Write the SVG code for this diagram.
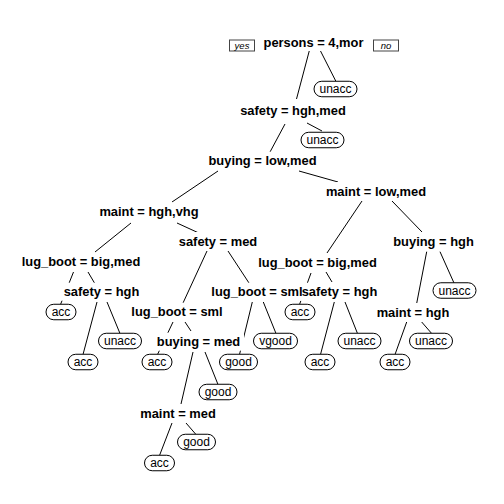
<svg xmlns="http://www.w3.org/2000/svg" width="504" height="504" viewBox="0 0 504 504">
<style>
.ln{stroke:#000;stroke-width:1;fill:none}
.bg{fill:#fff;stroke:none}
.sp{font-family:"Liberation Sans",Arial,sans-serif;font-weight:bold;font-size:12.9px;text-anchor:middle;fill:#000}
.lf rect{fill:#fff;stroke:#000;stroke-width:1}
.lf text{font-family:"Liberation Sans",Arial,sans-serif;font-size:12px;text-anchor:middle;fill:#000}
.yn rect{fill:#fff;stroke:#444;stroke-width:1}
.yn text{font-family:"Liberation Sans",Arial,sans-serif;font-style:italic;font-size:9.5px;text-anchor:middle;fill:#000}
</style>
<rect width="504" height="504" fill="#fff"/>
<g id="connectors">
<line class="ln" x1="309.5" y1="50" x2="296.5" y2="99"/>
<line class="ln" x1="320" y1="50" x2="336" y2="81.5"/>
<line class="ln" x1="285" y1="124" x2="270" y2="152"/>
<line class="ln" x1="307" y1="123" x2="322" y2="131"/>
<line class="ln" x1="218" y1="171" x2="172" y2="202"/>
<line class="ln" x1="299" y1="171" x2="338" y2="182"/>
<line class="ln" x1="131" y1="223" x2="95" y2="252"/>
<line class="ln" x1="177" y1="223" x2="201" y2="234"/>
<line class="ln" x1="362" y1="201" x2="327" y2="253"/>
<line class="ln" x1="392" y1="201" x2="422" y2="232"/>
<line class="ln" x1="207" y1="251" x2="183" y2="303"/>
<line class="ln" x1="228" y1="251" x2="249" y2="283"/>
<line class="ln" x1="73.5" y1="272" x2="60.5" y2="304.5"/>
<line class="ln" x1="88" y1="272" x2="94.5" y2="283"/>
<line class="ln" x1="97" y1="302" x2="83" y2="354.5"/>
<line class="ln" x1="107" y1="302" x2="120" y2="333.5"/>
<line class="ln" x1="173" y1="322" x2="157.5" y2="354.5"/>
<line class="ln" x1="185" y1="322" x2="191" y2="331"/>
<line class="ln" x1="193" y1="352" x2="181" y2="404"/>
<line class="ln" x1="205" y1="352" x2="218" y2="384.5"/>
<line class="ln" x1="172" y1="423" x2="159.5" y2="455.5"/>
<line class="ln" x1="186" y1="423" x2="196" y2="434.5"/>
<line class="ln" x1="252.3" y1="302" x2="239.5" y2="354.5"/>
<line class="ln" x1="263.3" y1="302" x2="276" y2="333.5"/>
<line class="ln" x1="311" y1="273" x2="299.5" y2="304.5"/>
<line class="ln" x1="326" y1="272" x2="332" y2="282"/>
<line class="ln" x1="334.3" y1="302" x2="320.5" y2="354.5"/>
<line class="ln" x1="345" y1="302" x2="357.5" y2="333.5"/>
<line class="ln" x1="426.7" y1="251.7" x2="416.7" y2="303.3"/>
<line class="ln" x1="440" y1="251.7" x2="454" y2="283"/>
<line class="ln" x1="406.7" y1="322" x2="395" y2="354.5"/>
<line class="ln" x1="421.7" y1="322" x2="431.7" y2="333.5"/>
</g>
<g id="label-backgrounds">
<rect class="bg" x="259" y="33" width="109" height="18"/>
<rect class="bg" x="237" y="101" width="112" height="18"/>
<rect class="bg" x="204.5" y="151.7" width="116" height="18"/>
<rect class="bg" x="96" y="202.5" width="106" height="18"/>
<rect class="bg" x="321" y="182" width="110" height="18"/>
<rect class="bg" x="18" y="252.7" width="126" height="18"/>
<rect class="bg" x="175" y="232" width="86" height="18"/>
<rect class="bg" x="253" y="253" width="129" height="18"/>
<rect class="bg" x="390" y="232" width="87" height="18"/>
<rect class="bg" x="60" y="282.7" width="83" height="18"/>
<rect class="bg" x="128" y="302.7" width="98" height="18"/>
<rect class="bg" x="208" y="282.7" width="98" height="18"/>
<rect class="bg" x="298" y="282.7" width="83" height="18"/>
<rect class="bg" x="373" y="303" width="80" height="18"/>
<rect class="bg" x="153" y="332.7" width="91" height="18"/>
<rect class="bg" x="137" y="404" width="82" height="18"/>
</g>
<g id="yes" class="yn"><rect x="229.5" y="40" width="25" height="11"/><text x="242" y="49">yes</text></g>
<g id="no" class="yn"><rect x="373.5" y="40" width="25" height="11"/><text x="386" y="49">no</text></g>
<g id="n1"><text class="sp" x="313.5" y="46.5">persons = 4,mor</text></g>
<g id="n2"><text class="sp" x="293" y="114.5">safety = hgh,med</text></g>
<g id="n3"><text class="sp" x="262.5" y="165.2">buying = low,med</text></g>
<g id="n4"><text class="sp" x="149" y="216">maint = hgh,vhg</text></g>
<g id="n5"><text class="sp" x="376" y="195.5">maint = low,med</text></g>
<g id="n6"><text class="sp" x="81" y="266.2">lug_boot = big,med</text></g>
<g id="n7"><text class="sp" x="218" y="245.5">safety = med</text></g>
<g id="n8"><text class="sp" x="317.5" y="266.5">lug_boot = big,med</text></g>
<g id="n9"><text class="sp" x="433.5" y="245.5">buying = hgh</text></g>
<g id="n10"><text class="sp" x="101.5" y="296.2">safety = hgh</text></g>
<g id="n11"><text class="sp" x="177" y="316.2">lug_boot = sml</text></g>
<g id="n12"><text class="sp" x="257" y="296.2">lug_boot = sml</text></g>
<g id="n13"><text class="sp" x="339.5" y="296.2">safety = hgh</text></g>
<g id="n14"><text class="sp" x="413" y="316.5">maint = hgh</text></g>
<g id="n15"><text class="sp" x="198.5" y="346.2">buying = med</text></g>
<g id="n16"><text class="sp" x="178" y="417.5">maint = med</text></g>
<g id="l1" class="lf"><rect x="314" y="81.25" width="43" height="15.5" rx="7.75"/><text x="335.5" y="93.2">unacc</text></g>
<g id="l2" class="lf"><rect x="301" y="132.25" width="43" height="15.5" rx="7.75"/><text x="322.5" y="144.2">unacc</text></g>
<g id="l3" class="lf"><rect x="433" y="282.75" width="43" height="15.5" rx="7.75"/><text x="454.5" y="294.7">unacc</text></g>
<g id="l4" class="lf"><rect x="46" y="304.25" width="30" height="15.5" rx="7.75"/><text x="61" y="316.2">acc</text></g>
<g id="l5" class="lf"><rect x="285" y="304.25" width="30" height="15.5" rx="7.75"/><text x="300" y="316.2">acc</text></g>
<g id="l6" class="lf"><rect x="98.5" y="333.25" width="43" height="15.5" rx="7.75"/><text x="120" y="345.2">unacc</text></g>
<g id="l7" class="lf"><rect x="253.5" y="333.25" width="44" height="15.5" rx="7.75"/><text x="275.5" y="345.2">vgood</text></g>
<g id="l8" class="lf"><rect x="338" y="333.25" width="43" height="15.5" rx="7.75"/><text x="359.5" y="345.2">unacc</text></g>
<g id="l9" class="lf"><rect x="409.5" y="333.25" width="43" height="15.5" rx="7.75"/><text x="431" y="345.2">unacc</text></g>
<g id="l10" class="lf"><rect x="68" y="354.25" width="30" height="15.5" rx="7.75"/><text x="83" y="366.2">acc</text></g>
<g id="l11" class="lf"><rect x="142" y="354.25" width="30" height="15.5" rx="7.75"/><text x="157" y="366.2">acc</text></g>
<g id="l12" class="lf"><rect x="219.5" y="354.25" width="38" height="15.5" rx="7.75"/><text x="238.5" y="366.2">good</text></g>
<g id="l13" class="lf"><rect x="305" y="354.25" width="30" height="15.5" rx="7.75"/><text x="320" y="366.2">acc</text></g>
<g id="l14" class="lf"><rect x="380" y="354.25" width="30" height="15.5" rx="7.75"/><text x="395" y="366.2">acc</text></g>
<g id="l15" class="lf"><rect x="199" y="384.25" width="38" height="15.5" rx="7.75"/><text x="218" y="396.2">good</text></g>
<g id="l16" class="lf"><rect x="177.5" y="434.25" width="38" height="15.5" rx="7.75"/><text x="196.5" y="446.2">good</text></g>
<g id="l17" class="lf"><rect x="144.5" y="455.25" width="30" height="15.5" rx="7.75"/><text x="159.5" y="467.2">acc</text></g>
</svg>
